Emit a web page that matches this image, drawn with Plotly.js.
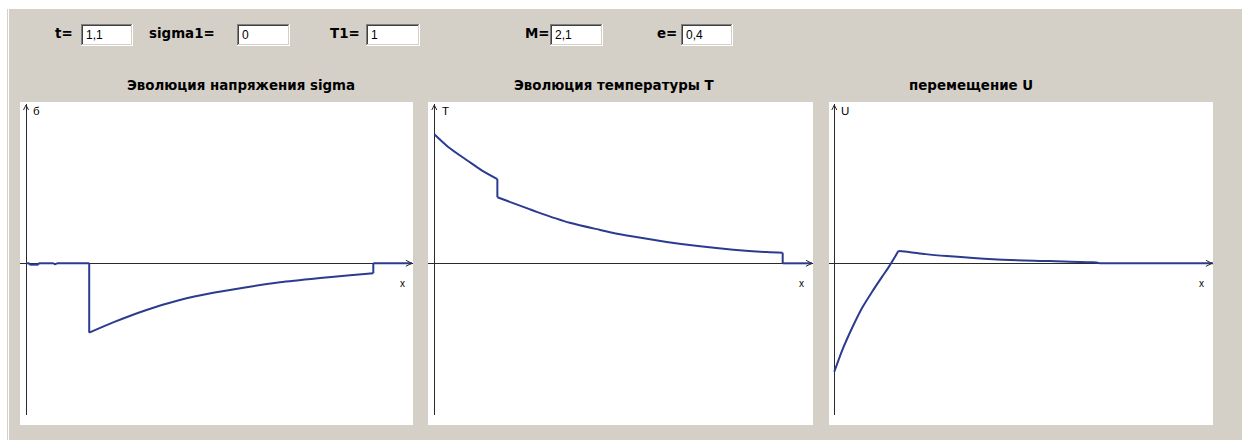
<!DOCTYPE html>
<html>
<head>
<meta charset="utf-8">
<script src="https://cdn.plot.ly/plotly-3.0.1.min.js"></script>
<style>html,body{margin:0;padding:0;background:#fff;}#chart{width:1242px;height:440px;}</style>
</head>
<body>
<div id="chart"></div>
<script>
// ---- data ----
const sigmaX = [0, 0.01, 0.01, 0.036, 0.036, 0.08, 0.08, 0.088, 0.088, 0.182, 0.182, 0.251, 0.347, 0.443, 0.539, 0.635, 0.731, 0.847, 0.933, 1.0, 1.0, 1.111];
const sigmaY = [0, 0, -0.02, -0.02, 0, 0, -0.012, -0.012, 0, 0, -1.0, -0.852, -0.673, -0.530, -0.426, -0.344, -0.273, -0.212, -0.172, -0.144, 0, 0];

const tempX = [0, 0.039, 0.097, 0.135, 0.181, 0.181, 0.269, 0.294, 0.389, 0.476, 0.533, 0.571, 0.667, 0.763, 0.858, 0.954, 1.0, 1.0, 1.084];
const tempY = [1.0, 0.904, 0.793, 0.723, 0.653, 0.512, 0.424, 0.399, 0.314, 0.259, 0.226, 0.207, 0.166, 0.132, 0.106, 0.087, 0.082, 0, 0];

const dispX = [0, 0.023, 0.052, 0.080, 0.109, 0.138, 0.157, 0.184, 0.214, 0.262, 0.323, 0.456, 0.619, 0.743, 0.762, 1.087];
const dispY = [-1.0, -0.80, -0.59, -0.41, -0.26, -0.12, -0.03, 0.113, 0.105, 0.085, 0.067, 0.037, 0.021, 0.009, 0, 0];

const panelTitles = ["Эволюция напряжения sigma", "Эволюция температуры T", "перемещение U"];
const axisNames = ["б", "T", "U"];
const paramLabels = ["t=", "sigma1=", "T1=", "M=", "e="];
const paramValues = ["1,1", "0", "1", "2,1", "0,4"];

// ---- layout helpers ----
const W = 1242, H = 440;
const PX = v => v / W;
const PY = v => 1 - v / H;
const LINE = '#2b3b8f';
const AX = '#2a2a2a';
const GREY = '#d4d0c8';

const panels = [
  {x0: 20, x1: 413, xr: [-0.01728, 1.1143], yr: [-2.186, 2.295], tx: 241, ax: 'x', ay: 'y', labX: 36, xlabX: 402, tipX: 1.111},
  {x0: 428, x1: 813, xr: [-0.01808, 1.0870], yr: [-1.176, 1.235], tx: 614, ax: 'x2', ay: 'y2', labX: 445, xlabX: 801, tipX: 1.084},
  {x0: 829, x1: 1213, xr: [-0.01521, 1.0870], yr: [-1.399, 1.470], tx: 971, ax: 'x3', ay: 'y3', labX: 845, xlabX: 1201, tipX: 1.084}
];
const yDom = [PY(415), PY(104)];

const shapes = [];
const annotations = [];

// window background
shapes.push({type: 'rect', xref: 'paper', yref: 'paper', x0: PX(9), x1: 1, y0: 0, y1: PY(9), fillcolor: GREY, line: {width: 0}, layer: 'below'});
shapes.push({type: 'line', xref: 'paper', yref: 'paper', x0: PX(7.5), x1: PX(7.5), y0: 0, y1: PY(9), line: {color: GREY, width: 1}, layer: 'below'});

// panels
panels.forEach(p => {
  shapes.push({type: 'rect', xref: 'paper', yref: 'paper', x0: PX(p.x0), x1: PX(p.x1), y0: PY(425), y1: PY(102), fillcolor: '#ffffff', line: {width: 0}, layer: 'below'});
});

// parameter inputs
const labelPos = [53, 147, 328, 523, 655];
const boxPos = [[81, 133], [237, 290], [366, 420], [550, 603], [681, 733]];
function sunkenBox(x0, x1, y0, y1) {
  shapes.push({type: 'rect', xref: 'paper', yref: 'paper', x0: PX(x0), x1: PX(x1), y0: PY(y1), y1: PY(y0), fillcolor: '#ffffff', line: {width: 0}, layer: 'below'});
  const L = (a, b, c, d, col) => shapes.push({type: 'line', xref: 'paper', yref: 'paper', x0: PX(a), y0: PY(b), x1: PX(c), y1: PY(d), line: {color: col, width: 1}, layer: 'below'});
  L(x0, y0 + 0.5, x1, y0 + 0.5, '#808080');
  L(x0 + 0.5, y0, x0 + 0.5, y1, '#808080');
  L(x0 + 1, y0 + 1.5, x1 - 1, y0 + 1.5, '#404040');
  L(x0 + 1.5, y0 + 1, x0 + 1.5, y1 - 1, '#404040');
  L(x0, y1 - 0.5, x1, y1 - 0.5, '#ffffff');
  L(x1 - 0.5, y0, x1 - 0.5, y1, '#ffffff');
  L(x0 + 1, y1 - 1.5, x1 - 1, y1 - 1.5, GREY);
  L(x1 - 1.5, y0 + 1, x1 - 1.5, y1 - 1, GREY);
}
paramLabels.forEach((lab, i) => {
  annotations.push({xref: 'paper', yref: 'paper', x: PX(labelPos[i]), y: PY(33.5), xanchor: 'left', yanchor: 'middle', showarrow: false, text: lab,
    font: {family: 'DejaVu Sans', size: 13.4, weight: 'bold', color: '#000'}});
  sunkenBox(boxPos[i][0], boxPos[i][1], 24, 46);
  annotations.push({xref: 'paper', yref: 'paper', x: PX(boxPos[i][0] + 3), y: PY(35), xanchor: 'left', yanchor: 'middle', showarrow: false, text: paramValues[i],
    font: {family: 'Liberation Sans', size: 12, color: '#000'}});
});

// panel titles, axis names and arrows
panels.forEach((p, i) => {
  annotations.push({xref: 'paper', yref: 'paper', x: PX(p.tx), y: PY(86), xanchor: 'center', yanchor: 'middle', showarrow: false, text: panelTitles[i],
    font: {family: 'DejaVu Sans', size: 13.4, weight: 'bold', color: '#000'}});
  annotations.push({xref: 'paper', yref: 'paper', x: PX(p.labX), y: PY(111), xanchor: 'center', yanchor: 'middle', showarrow: false, text: axisNames[i],
    font: {family: 'Liberation Sans', size: 11.5, color: '#000'}});
  annotations.push({xref: 'paper', yref: 'paper', x: PX(p.xlabX), y: PY(283), xanchor: 'center', yanchor: 'middle', showarrow: false, text: 'x',
    font: {family: 'Liberation Sans', size: 10, color: '#000'}});
  shapes.push({type: 'path', xref: p.ax, yref: p.ay, xsizemode: 'pixel', ysizemode: 'pixel', xanchor: p.tipX, yanchor: 0,
    path: 'M-6,3 L0,0 L-6,-3', line: {color: AX, width: 1}});
  shapes.push({type: 'path', xref: p.ax, yref: p.ay, xsizemode: 'pixel', ysizemode: 'pixel', xanchor: 0, yanchor: p.yr[1],
    path: 'M-2.5,-6 L0,-1 L2.5,-6', line: {color: AX, width: 1}});
});

// split a series into smooth pieces at vertical jumps (equal x) and at the extra break indices
function pieces(xs, ys, breaks) {
  const out = [];
  let cur = {x: [xs[0]], y: [ys[0]]};
  for (let i = 1; i < xs.length; i++) {
    const jump = xs[i] === xs[i - 1];
    if (jump) {
      out.push(cur);
      out.push({x: [xs[i - 1], xs[i]], y: [ys[i - 1], ys[i]], lin: true});
      cur = {x: [xs[i]], y: [ys[i]]};
    } else {
      cur.x.push(xs[i]); cur.y.push(ys[i]);
      if (breaks.indexOf(i) >= 0) { out.push(cur); cur = {x: [xs[i]], y: [ys[i]]}; }
    }
  }
  out.push(cur);
  return out.filter(s => s.x.length > 1);
}
const peakIdx = dispY.indexOf(Math.max.apply(null, dispY));
const series = [
  {xs: sigmaX, ys: sigmaY, xa: 'x', ya: 'y', br: []},
  {xs: tempX, ys: tempY, xa: 'x2', ya: 'y2', br: []},
  {xs: dispX, ys: dispY, xa: 'x3', ya: 'y3', br: [peakIdx, dispY.indexOf(0)]}
];
const data = [];
series.forEach(s => {
  pieces(s.xs, s.ys, s.br).forEach(pc => {
    data.push({x: pc.x, y: pc.y, xaxis: s.xa, yaxis: s.ya, mode: 'lines',
      line: {color: LINE, width: 2, shape: (pc.lin || pc.x.length < 3) ? 'linear' : 'spline', smoothing: 0.8},
      hoverinfo: 'skip', showlegend: false});
  });
});

const axBase = {showgrid: false, showticklabels: false, ticks: '', showline: false, zeroline: true, zerolinecolor: AX, zerolinewidth: 1, fixedrange: true};
const layout = {
  width: W, height: H, autosize: false,
  margin: {l: 0, r: 0, t: 0, b: 0, pad: 0},
  paper_bgcolor: '#ffffff', plot_bgcolor: 'rgba(0,0,0,0)',
  showlegend: false,
  shapes: shapes, annotations: annotations
};
panels.forEach((p, i) => {
  const s = i === 0 ? '' : String(i + 1);
  layout['xaxis' + s] = Object.assign({}, axBase, {domain: [PX(p.x0), PX(p.x1)], range: p.xr, anchor: 'y' + s});
  layout['yaxis' + s] = Object.assign({}, axBase, {domain: yDom, range: p.yr, anchor: 'x' + s});
});

Plotly.newPlot('chart', data, layout, {displayModeBar: false, staticPlot: true});
</script>
</body>
</html>
